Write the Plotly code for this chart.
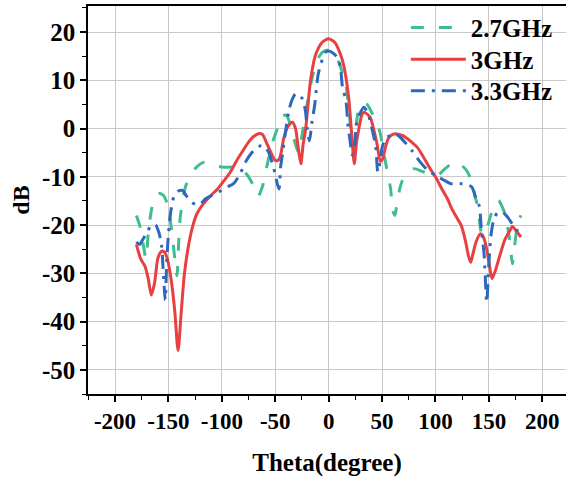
import plotly.graph_objects as go

# ---- data ----
theta_27 = [-180,-177,-174,-171,-169,-166,-163,-159,-155,-152,-149,-146.5,-144,-142,-140.5,-139,-137,-134,-130,-125,-117,-110,-104,-98,-90,-81,-75,-70,-66,-62,-58,-53,-48,-44,-40,-36,-32,-28,-25,-21,-16,-11,-6,0,5,9.5,13,15.6,18,20,22,24,26,29,33,36,40,44,48,51.5,55,58,60,62,64,66,69,75,80,89,97,103,108,113,119,125,130,134,137,140,143,146,149,152,156,159,163,166,168,170,172,174,176,178,180]
db_27 = [-18,-20,-23.5,-27,-22,-17,-14.5,-13.5,-13.8,-15,-18,-22,-27,-30.5,-24,-18.5,-15.5,-12,-10,-8.3,-7,-7.3,-7.8,-8,-8,-8.5,-10,-12,-14,-12,-8,-3.2,0,2.5,2.8,1,-2.5,-5,-1.5,4,10,14,15.8,16.3,15.6,13.7,11.5,9.9,6,1.5,-3,-4,1,4.8,5.3,5,3.5,1.7,-0.8,-5,-9,-12.5,-17,-18,-15.5,-13,-10.8,-9,-8.3,-9,-9.5,-9.5,-8.5,-7.6,-7,-7.7,-9,-11,-14,-16.6,-21.5,-22,-20,-17.8,-15.5,-14.9,-16.5,-18.5,-21,-24,-28,-24.5,-21,-19,-18]

theta_30 = [-180,-176,-172,-169,-166,-163,-160,-157,-154,-151,-147,-144,-141,-138,-135,-131,-127,-123,-117,-110,-104,-98,-92,-86,-80,-75,-70,-65,-62,-58,-54,-50,-47,-45,-42,-38,-34,-31,-28.5,-26,-24,-21.5,-17,-12.5,-6,0,6,10,14,18.7,22,24,26,28,31,33,36,39,42,45.3,48.4,50.5,53,56,60,64,70,76,83,89,95,100,105,112,115,120,124,128,131,133,135,138,142,145,148,151,153,156,160,165,170,172,176,180]
db_30 = [-24,-27,-28.5,-31,-34.5,-32,-27,-25.5,-25.5,-27,-32,-38,-46,-38,-30,-24,-20,-17.5,-15.5,-13.8,-12.5,-10.8,-9,-6.6,-4.5,-2.8,-1.6,-1,-1.2,-3,-5,-6.6,-6.5,-5.5,-2,0.5,1.3,0,-4,-7.3,-3.5,0,9.9,15.1,17.9,18.6,17.8,16,13.2,6.5,-2.5,-7.3,-3,-0.4,2.8,3.4,3,2.3,0,-3.2,-6.8,-6.3,-4,-2,-1.2,-1.1,-1.5,-2.5,-3.9,-6,-8.3,-10,-12.1,-14.9,-16.5,-18.5,-20,-23.2,-26.5,-27.7,-26,-23.5,-21.8,-22.5,-25,-29,-31.1,-29.5,-26.5,-23,-21,-20.3,-21.3,-22.5]

theta_33 = [-180,-177,-174,-170,-166,-162,-159,-156.5,-155,-153,-151.5,-150,-148,-145,-141,-137,-133,-128,-124,-120,-115,-110,-100,-94,-89,-83,-77,-72,-68,-63,-59,-56,-53,-50,-48,-46.5,-45,-43,-40,-37,-34,-31,-28,-25,-22,-20,-18,-15.5,-13,-10,-7,-3,0,3,8,11,13,16,18,20,22,24,26,29,33,37,41,44,46,48.4,50,53,57,62,67,72,78,86,92,100,108,114,123,130,134,138,141,143,145.5,148,150,152,155,158,163,168,172,176,180]
db_33 = [-23.5,-24,-23,-21.5,-20,-20,-21.5,-24,-29,-35.5,-27,-22,-17.5,-14.2,-13,-12.8,-14,-15.3,-15.8,-15.6,-14.5,-13.9,-12.8,-12,-11.4,-9.4,-6.6,-5,-4.2,-3.5,-4,-5,-7,-9.5,-11.5,-12.5,-8,-5,0,4,6.1,7.2,7,6.3,4,0,-2.5,1.5,5,11,13.6,15.8,16.1,15.8,14.8,12.7,8.5,6,1,-2.5,-5.5,-4,1,3,4.4,3,-0.5,-3.5,-9,-6.6,-4,-2.1,-1.5,-1.1,-1.8,-3,-4.6,-7,-8.5,-9.7,-10.7,-11.4,-11.4,-11.7,-12.1,-14.5,-16,-21,-26,-36,-28,-22,-18.5,-17.5,-17.3,-18.5,-19.8,-21,-22.5]

names = ["2.7GHz", "3GHz", "3.3GHz"]
x_ticks = [-200, -150, -100, -50, 0, 50, 100, 150, 200]
y_ticks = [20, 10, 0, -10, -20, -30, -40, -50]

FONT = "Liberation Serif"

fig = go.Figure()
fig.add_trace(go.Scatter(x=theta_27, y=db_27, name=names[0], mode="lines", legend="legend",
                         line=dict(color="rgb(62,190,140)", width=3, dash="13px,15px",
                                   shape="spline", smoothing=0.7)))
fig.add_trace(go.Scatter(x=theta_30, y=db_30, name=names[1], mode="lines", legend="legend2",
                         line=dict(color="rgb(232,64,64)", width=3, shape="spline", smoothing=0.7)))
fig.add_trace(go.Scatter(x=theta_33, y=db_33, name=names[2], mode="lines", legend="legend3",
                         line=dict(color="rgb(44,104,190)", width=3, dash="14px,7px,3px,7px",
                                   shape="spline", smoothing=0.7)))

axis_common = dict(
    showline=True, linecolor="black", linewidth=1.5,
    ticks="outside", ticklen=6, tickwidth=1.5, tickcolor="black",
    showgrid=True, gridcolor="rgb(200,200,200)", gridwidth=1,
    zeroline=False,
)

def leg(ypos):
    return dict(x=0.665, y=ypos, xanchor="left", yanchor="middle",
                font=dict(family=FONT, size=25, color="black", weight="bold"),
                bgcolor="rgba(0,0,0,0)", itemwidth=55)

fig.update_layout(
    width=566, height=480,
    margin=dict(l=88, r=0, t=6, b=86),
    plot_bgcolor="white", paper_bgcolor="white",
    xaxis=dict(range=[-225.3, 222.2], tickvals=x_ticks, ticktext=[str(v) for v in x_ticks],
               tickfont=dict(family=FONT, size=23, color="black", weight="bold"),
               title=dict(text="Theta(degree)", font=dict(family=FONT, size=25, color="black", weight="bold"), standoff=20),
               minor=dict(ticks="outside", ticklen=4, tickwidth=1.2, tickcolor="black", dtick=25, tick0=0, showgrid=False),
               mirror=True, **axis_common),
    yaxis=dict(range=[-55, 25.4], tickvals=y_ticks, ticktext=[str(v) for v in y_ticks],
               tickfont=dict(family=FONT, size=25, color="black", weight="bold"),
               title=dict(text="dB", font=dict(family=FONT, size=24, color="black", weight="bold"), standoff=6),
               minor=dict(ticks="outside", ticklen=4, tickwidth=1.2, tickcolor="black", dtick=5, tick0=0, showgrid=False),
               **axis_common),
    legend=leg(0.944),
    legend2=leg(0.862),
    legend3=leg(0.781),
    showlegend=True,
)

fig.write_html("out.html")
